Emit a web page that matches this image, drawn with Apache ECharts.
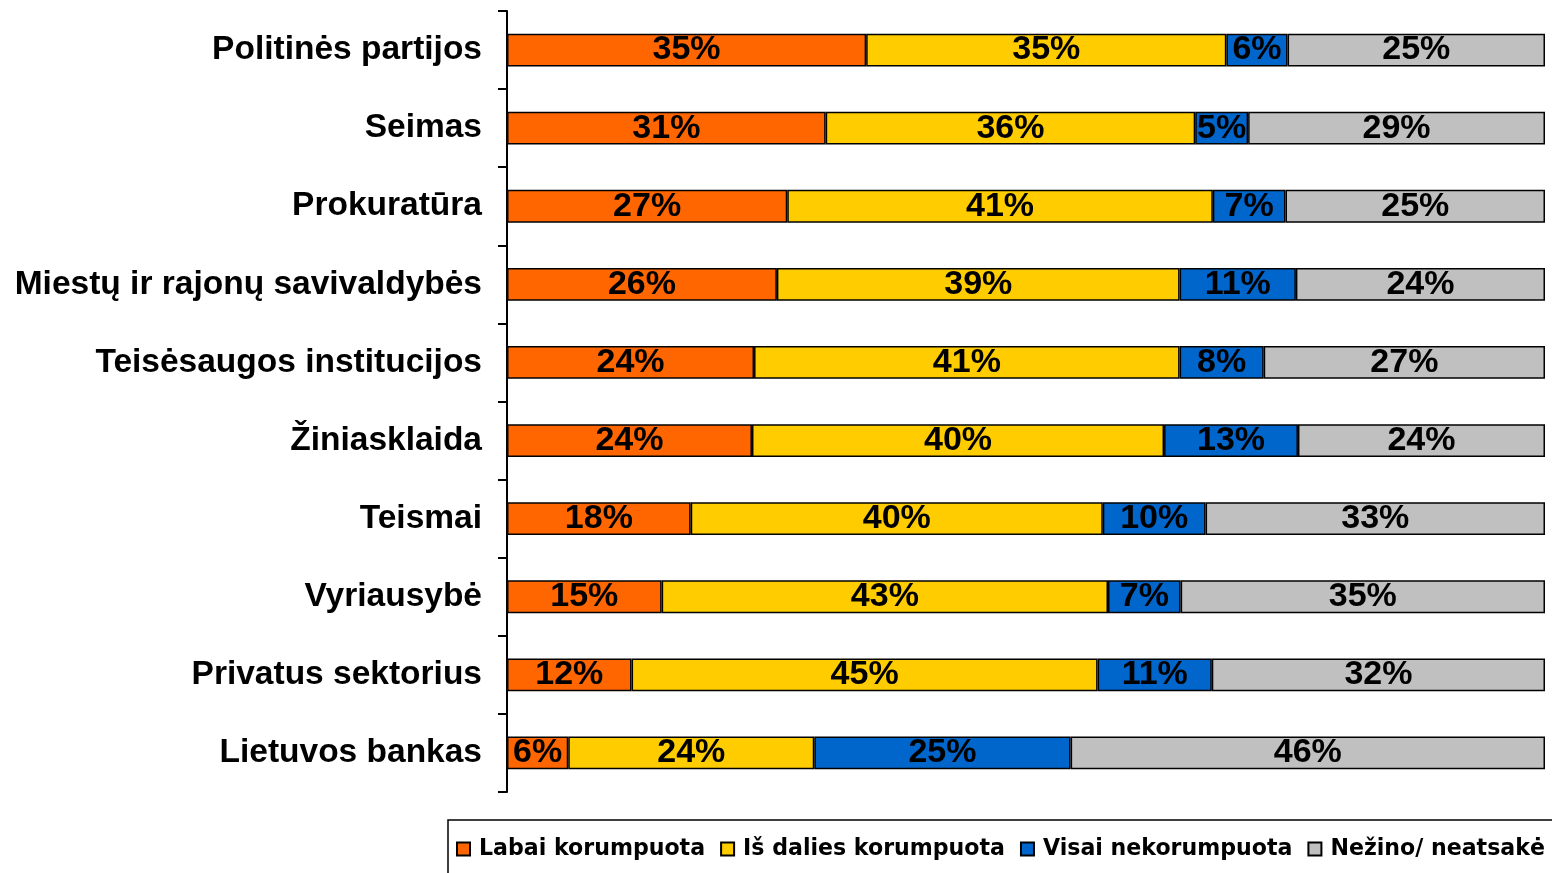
<!DOCTYPE html>
<html>
<head>
<meta charset="utf-8">
<script src="https://cdn.jsdelivr.net/npm/echarts@6/dist/echarts.min.js"></script>
<style>
html,body{margin:0;padding:0;background:#fff;}
#chart{width:1552px;height:873px;}
</style>
</head>
<body>
<div id="chart"></div>
<script>
const categories = ["Politinės partijos","Seimas","Prokuratūra","Miestų ir rajonų savivaldybės","Teisėsaugos institucijos","Žiniasklaida","Teismai","Vyriausybė","Privatus sektorius","Lietuvos bankas"];
const seriesNames = ["Labai korumpuota","Iš dalies korumpuota","Visai nekorumpuota","Nežino/ neatsakė"];
const labai = [34.6, 30.7, 27.0, 26.0, 23.8, 23.6, 17.7, 14.9, 12.0, 5.9];
const isDalies = [34.7, 35.6, 41.0, 38.8, 41.0, 39.7, 39.7, 43.0, 44.9, 23.7];
const visaiNe = [5.9, 5.1, 7.0, 11.2, 8.1, 12.9, 9.9, 7.0, 11.0, 24.7];
const nezino = [24.8, 28.6, 25.0, 24.0, 27.1, 23.8, 32.7, 35.1, 32.1, 45.7];
const colors = ["#FF6600","#FFCC00","#0066CC","#C0C0C0"];
const FONT = "'Liberation Sans', Arial, sans-serif";
const LEGEND_FONT = "'DejaVu Sans', sans-serif";

const dataSets = [labai, isDalies, visaiNe, nezino];
const chart = echarts.init(document.getElementById('chart'));
chart.setOption({
  animation: false,
  textStyle: {fontFamily: FONT},
  grid: {left: 507, right: 7, top: 11, bottom: 81, containLabel: false},
  xAxis: {type: 'value', min: 0, max: 100, show: false},
  yAxis: {
    type: 'category', data: categories, inverse: true,
    axisLine: {show: true, lineStyle: {color: '#000', width: 2}},
    axisTick: {show: true, length: 9, lineStyle: {color: '#000', width: 2}},
    axisLabel: {color: '#000', fontSize: 33.5, fontWeight: 'bold', fontFamily: FONT, margin: 25}
  },
  legend: {
    left: 448, top: 820, width: 1300, orient: 'horizontal',
    data: seriesNames,
    icon: 'rect', itemWidth: 13, itemHeight: 13, itemGap: 15,
    borderColor: '#000', borderWidth: 1.5,
    padding: [18, 10, 30, 8],
    textStyle: {color: '#000', fontSize: 22.1, fontWeight: 'bold', fontFamily: LEGEND_FONT, padding: [0, 0, 0, 4]}
  },
  series: seriesNames.map((n, i) => ({
    name: n, type: 'bar', stack: 'total', barWidth: '42%',
    data: dataSets[i],
    itemStyle: {color: colors[i], borderColor: '#000', borderWidth: 1.5},
    label: {
      show: true, position: 'inside', color: '#000', fontSize: 34, fontWeight: 'bold', fontFamily: FONT,
      formatter: p => Math.round(p.value) + '%'
    }
  }))
});
</script>
</body>
</html>
